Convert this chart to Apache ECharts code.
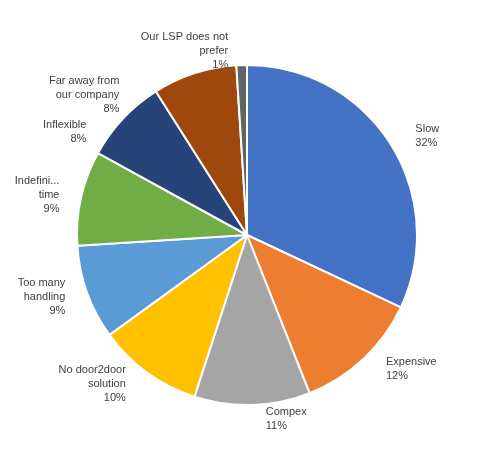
<!DOCTYPE html>
<html><head><meta charset="utf-8">
<script src="https://cdn.jsdelivr.net/npm/echarts@6/dist/echarts.min.js"></script>
<style>html,body{margin:0;background:#fff}#main{width:491px;height:471px}</style>
</head><body><div id="main"></div>
<script>
var names = ['Slow','Expensive','Compex','No door2door\nsolution','Too many\nhandling','Indefinite transit\ntime','Inflexible','Far away from\nour company','Our LSP does not\nprefer'];
var values = [32,12,11,10,9,9,8,8,1];
var colors = ['#4472C4','#ED7D31','#A5A5A5','#FFC000','#5B9BD5','#70AD47','#264478','#9E480E','#636363'];
var data = [];
for(var i=0;i<names.length;i++){
	data.push({name:names[i],value:values[i],itemStyle:{color:colors[i]}});
}
var chart = echarts.init(document.getElementById('main'));
chart.setOption({
	animation:false,
	series:[{
		type:'pie',
		center:[247,235],
		radius:[0,170],
		startAngle:90,
		clockwise:true,
		data:data,
		itemStyle:{borderColor:'#fff',borderWidth:2},
		label:{
			show:true,
			position:'outside',
			formatter:'{b}\n{d}%',
			align:'center',
			color:'#404040',
			fontSize:11,
			lineHeight:14,
			fontFamily:'Liberation Sans, Arial'
		},
		labelLine:{show:false,length:14,length2:8}
	}]
});
</script></body></html>
